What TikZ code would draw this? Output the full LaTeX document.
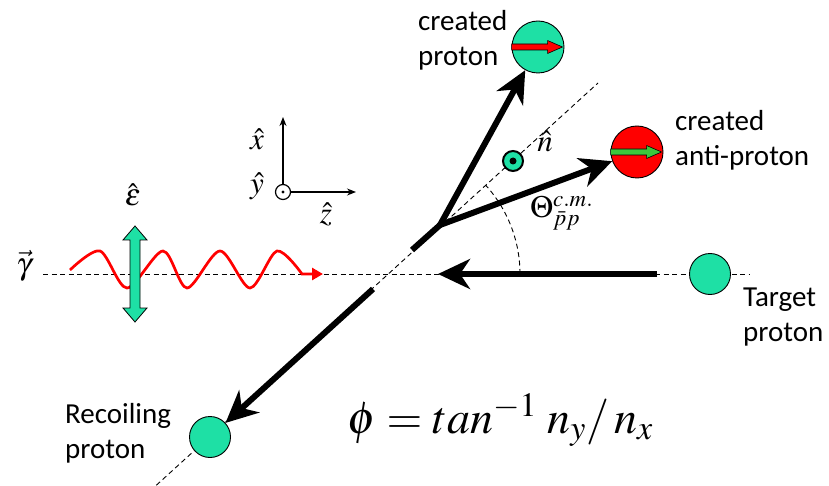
\documentclass[tikz,border=0pt]{standalone}
\usepackage{mathptmx}
\usepackage{fontspec}
\newfontfamily\calibri{Carlito}
\usetikzlibrary{arrows.meta}
\definecolor{protongreen}{RGB}{30,224,165}
\definecolor{spingreen}{RGB}{60,200,60}
\tikzset{
  particle/.style={circle, draw=black, fill=protongreen, inner sep=0pt, line width=0.9pt},
  track/.style={line width=6pt, -{Stealth[length=32pt,width=30pt,inset=10pt]}},
  guide/.style={line width=0.9pt, dash pattern=on 5pt off 3.5pt},
  axis/.style={line width=1.2pt, -{Stealth[length=9pt,width=7pt]}},
  tag/.style={font=\calibri\fontsize{29}{35}\selectfont, align=left, inner sep=0pt, anchor=west},
  mathlab/.style={font=\fontsize{31}{35}\selectfont, inner sep=0pt},
}

\begin{document}
\begin{tikzpicture}[x=1pt,y=1pt]
\useasboundingbox (0,0) rectangle (829,-486);
% Define coordinates
\coordinate (O) at (388,-274);
\coordinate (V) at (440,-225);
\coordinate (S) at (412,-250);
\coordinate (R) at (373,-289);
\coordinate (T) at (657,-274);
\coordinate (B) at (438,-274);
\coordinate (Bl) at (43,-274);
\coordinate (Br) at (750,-274);
\coordinate (Nl) at (150,-491);
\coordinate (Nu) at (598,-83);
\coordinate (A) at (520,-274);
% Dashed guide lines
\draw[guide] (Bl) -- (Br);
\draw[guide] (Nl) -- (Nu);
\draw[guide] (A) arc[start angle=0, end angle=42.3, radius=132];
% Particles
\node[particle, minimum size=52pt] (cp) at (538,-47) {};
\node[particle, minimum size=52pt, fill=red] (ap) at (637,-152) {};
\node[particle, minimum size=41pt] (tp) at (710,-274) {};
\node[particle, minimum size=41pt] (rp) at (210,-437) {};
% Spin arrows
\filldraw[fill=red, draw=black, line width=0.6pt] (cp.west) ++(0,3) -- ++(36,0) -- ++(0,3.5)
  -- ++(15,-6.5) -- ++(-15,-6.5) -- ++(0,3.5) -- ++(-36,0) -- cycle;
\filldraw[fill=spingreen, draw=black, line width=0.6pt] (ap.west) ++(0,3) -- ++(36,0) -- ++(0,3.5)
  -- ++(15,-6.5) -- ++(-15,-6.5) -- ++(0,3.5) -- ++(-36,0) -- cycle;
% Tracks
\draw[line width=6pt] (S) -- (V);
\fill (V) circle (3);
\draw[track] (V) -- (cp);
\draw[track] (V) -- (ap);
\draw[track] (T) -- (B);
\draw[track] (R) -- (rp);
% n-hat marker
\node[circle, draw=black, line width=2pt, fill=protongreen, minimum size=20pt, inner sep=0pt] (nm) at (513,-161) {};
\fill (nm) circle (3.5);
% Axes
\node[circle, draw=black, line width=1.2pt, minimum size=15pt, inner sep=0pt] (yax) at (283,-192) {};
\fill (yax) circle (1.6);
\coordinate (xtip) at (283,-117);
\coordinate (ztip) at (356,-192);
\draw[axis] (yax) -- (xtip);
\draw[axis] (yax) -- (ztip);
% Photon
\draw[red, line width=2.7pt, -{Triangle[length=11pt,width=12pt]}]
  plot[smooth] coordinates {(70,-270) (100,-251) (127,-288) (163,-251) (187,-288) (220,-251) (250,-288) (277,-251) (302,-274)}
  -- (323,-274);
% Polarisation arrow
\filldraw[fill=protongreen, draw=black, line width=0.8pt] (135,-226) -- (147,-240) -- (140,-240) -- (140,-308)
  -- (147,-308) -- (135,-322) -- (123,-308) -- (130,-308) -- (130,-240) -- (123,-240) -- cycle;
% Labels
\node[tag] (cpt) at (418,-40) {created\\proton};
\node[tag] (apt) at (675,-140) {created\\anti-proton};
\node[tag] (tpt) at (743,-317) {Target\\proton};
\node[tag] (rpt) at (65,-433) {Recoiling\\proton};
\node[mathlab] (eps) at (133,-195) {$\hat{\varepsilon}$};
\node[mathlab] (gam) at (24,-266) {$\vec{\gamma}$};
\node[mathlab] (xl) at (257,-139) {$\hat{x}$};
\node[mathlab] (yl) at (257,-186) {$\hat{y}$};
\node[mathlab] (zl) at (326,-214) {$\hat{z}$};
\node[mathlab] (nl) at (545,-141) {$\hat{n}$};
\node[mathlab, anchor=west] (th) at (530,-213) {$\Theta^{c.m.}_{\bar{p}p}$};
\node[font=\fontsize{46}{55}\selectfont, inner sep=0pt, anchor=base west] (phi) at (347,-433)
  {$\phi = tan^{-1}\; n_y /\, n_x$};
\end{tikzpicture}
\end{document}
